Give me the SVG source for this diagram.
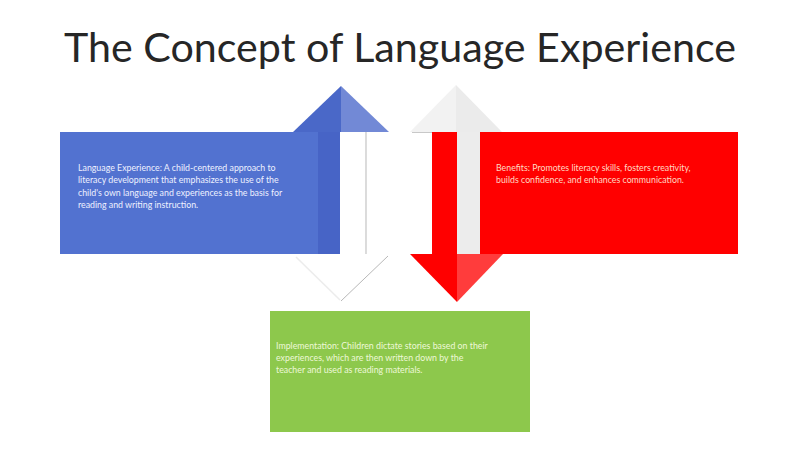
<svg xmlns="http://www.w3.org/2000/svg" width="800" height="449" viewBox="0 0 800 449">
<style>
.title{font-family:Lato,"Open Sans","Liberation Sans",sans-serif;font-size:41px;fill:#262626}
.body{font-family:Lato,"Open Sans","Liberation Sans",sans-serif;font-size:8.8px}
.tb{fill:#eef1ff}
.tr{fill:#ffd9c2}
.tg{fill:#eef8d8}
</style>
<rect width="800" height="449" fill="#ffffff"/>
<text class="title" x="400" y="62" text-anchor="middle" textLength="672" lengthAdjust="spacingAndGlyphs">The Concept of Language Experience</text>
<g id="connectors">
  <g id="up-arrow">
    <polygon points="293,132 341,86 341,132" fill="#4a68c8"/>
    <polygon points="341,86 389,132 341,132" fill="#7289d6"/>
    <rect x="340" y="132" width="26" height="122" fill="#ffffff"/>
    <line x1="366" y1="132" x2="366" y2="254" stroke="#c4c4c4" stroke-width="1.2"/>
    <polygon points="293,254 388,254 340,301" fill="#ffffff"/>
    <line x1="388" y1="256" x2="341" y2="301" stroke="#b8b8b8" stroke-width="1"/>
    <line x1="296" y1="257" x2="340" y2="300" stroke="#ececec" stroke-width="1.5"/>
  </g>
  <g id="down-arrow">
    <polygon points="410,132 456,85 456,132" fill="#f2f2f2"/>
    <polygon points="456,85 502,132 456,132" fill="#ebebeb"/>
    <line x1="412" y1="132.5" x2="432" y2="132.5" stroke="#c8c8c8" stroke-width="1"/>
    <rect x="432" y="132" width="25" height="122" fill="#ff0000"/>
    <rect x="457" y="132" width="23" height="122" fill="#ececec"/>
    <polygon points="410,254 457,254 457,302" fill="#ff0000"/>
    <polygon points="457,254 503,254 457,302" fill="#ff3c3c"/>
  </g>
</g>
<g id="node-language-experience">
  <rect x="60" y="132" width="280" height="122" fill="#5272d0"/>
  <rect x="318" y="132" width="22" height="122" fill="#4764c6"/>
  <text class="body tb" x="78" y="171">
    <tspan x="78" dy="0">Language Experience: A child-centered approach to</tspan>
    <tspan x="78" dy="12.3">literacy development that emphasizes the use of the</tspan>
    <tspan x="78" dy="12.3">child's own language and experiences as the basis for</tspan>
    <tspan x="78" dy="12.3">reading and writing instruction.</tspan>
  </text>
</g>
<g id="node-benefits">
  <rect x="480" y="132" width="258" height="122" fill="#ff0000"/>
  <text class="body tr" x="496" y="171">
    <tspan x="496" dy="0">Benefits: Promotes literacy skills, fosters creativity,</tspan>
    <tspan x="496" dy="12.3">builds confidence, and enhances communication.</tspan>
  </text>
</g>
<g id="node-implementation">
  <rect x="270" y="311" width="260" height="121" fill="#8dc84c"/>
  <text class="body tg" x="276" y="349">
    <tspan x="276" dy="0">Implementation: Children dictate stories based on their</tspan>
    <tspan x="276" dy="12">experiences, which are then written down by the</tspan>
    <tspan x="276" dy="12">teacher and used as reading materials.</tspan>
  </text>
</g>
</svg>
